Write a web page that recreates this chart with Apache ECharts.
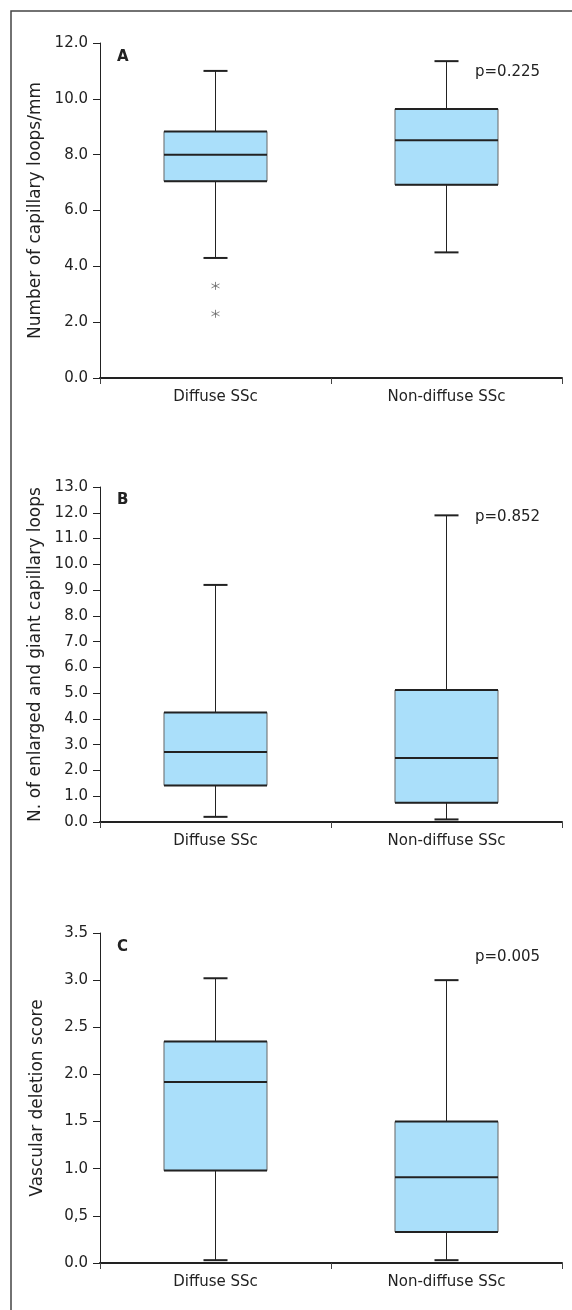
<!DOCTYPE html>
<html>
<head>
<meta charset="utf-8">
<script src="https://cdn.jsdelivr.net/npm/echarts@6/dist/echarts.min.js"></script>
<style>
  html, body { margin: 0; padding: 0; background: #fff; overflow: hidden; }
  #chart { width: 572px; height: 1310px; }
</style>
</head>
<body>
<div id="chart"></div>
<script>
// groups on the x axis
const categories = ['Diffuse SSc', 'Non-diffuse SSc']

// [min, q1, median, q3, max] per group
const loopsBox = [[4.3, 7.05, 8.0, 8.83, 11.0], [4.5, 6.92, 8.52, 9.64, 11.35]]
const loopsOutliers = [[0, 3.3], [0, 2.3]]
const enlargedBox = [[0.2, 1.42, 2.72, 4.25, 9.2], [0.1, 0.75, 2.48, 5.12, 11.9]]
const deletionBox = [[0.03, 0.98, 1.92, 2.35, 3.02], [0.03, 0.33, 0.91, 1.5, 3.0]]

// y axis labels as printed (panel C has a comma on 0,5)
const deletionTicks = ['0.0', '0,5', '1.0', '1.5', '2.0', '2.5', '3.0', '3.5']

const yNames = ['Number of capillary loops/mm', 'N. of enlarged and giant capillary loops', 'Vascular deletion score']
const panelLetters = ['A', 'B', 'C']
const pValues = ['p=0.225', 'p=0.852', 'p=0.005']

const FONT = '"DejaVu Sans", sans-serif'
const INK = '#222'

const grids = [
  { left: 100, top: 43, width: 462, height: 335 },
  { left: 100, top: 487, width: 462, height: 335 },
  { left: 100, top: 933, width: 462, height: 330 }
]
const yRanges = [[0, 12, 2], [0, 13, 1], [0, 3.5, 0.5]]

function boxItem(params, api) {
  const cat = api.value(0)
  const lo = api.coord([cat, api.value(1)])
  const q1 = api.coord([cat, api.value(2)])
  const med = api.coord([cat, api.value(3)])
  const q3 = api.coord([cat, api.value(4)])
  const hi = api.coord([cat, api.value(5)])
  const band = api.size([1, 0])[0]
  const bw = band * 0.446 / 2
  const cw = band * 0.104 / 2
  const cx = lo[0]
  const hline = (y, half, w) => ({
    type: 'line',
    shape: { x1: cx - half, y1: y, x2: cx + half, y2: y },
    style: { stroke: INK, lineWidth: w }
  })
  return {
    type: 'group',
    children: [
      { type: 'line', shape: { x1: cx, y1: q3[1], x2: cx, y2: hi[1] }, style: { stroke: INK, lineWidth: 1 } },
      { type: 'line', shape: { x1: cx, y1: q1[1], x2: cx, y2: lo[1] }, style: { stroke: INK, lineWidth: 1 } },
      {
        type: 'rect',
        shape: { x: cx - bw, y: q3[1], width: bw * 2, height: q1[1] - q3[1] },
        style: { fill: '#aadffa', stroke: '#666', lineWidth: 1 }
      },
      hline(q3[1], bw, 2),
      hline(q1[1], bw, 2),
      hline(med[1], bw, 2),
      hline(hi[1], cw, 2),
      hline(lo[1], cw, 2)
    ]
  }
}

const chart = echarts.init(document.getElementById('chart'), null, { renderer: 'canvas' })

const xAxis = grids.map((g, i) => ({
  type: 'category',
  gridIndex: i,
  data: categories,
  boundaryGap: true,
  axisLine: { lineStyle: { color: INK, width: 2 } },
  axisTick: { show: true, length: 6, lineStyle: { color: '#444', width: 1 } },
  axisLabel: { color: INK, fontSize: 15, fontFamily: FONT, margin: 12 },
  splitLine: { show: false }
}))

const yAxis = grids.map((g, i) => ({
  type: 'value',
  gridIndex: i,
  min: yRanges[i][0],
  max: yRanges[i][1],
  interval: yRanges[i][2],
  name: yNames[i],
  nameLocation: 'middle',
  nameGap: 54,
  nameTextStyle: { color: INK, fontSize: 17, fontFamily: FONT },
  axisLine: { show: true, lineStyle: { color: INK, width: 1 } },
  axisTick: { show: true, length: 7, lineStyle: { color: INK, width: 1 } },
  axisLabel: {
    color: INK, fontSize: 15, fontFamily: FONT, margin: 12,
    formatter: (v) => i === 2 ? deletionTicks[Math.round(v / 0.5)] : v.toFixed(1)
  },
  splitLine: { show: false }
}))

const boxSets = [loopsBox, enlargedBox, deletionBox]
const series = boxSets.map((set, i) => ({
  type: 'custom',
  xAxisIndex: i,
  yAxisIndex: i,
  renderItem: boxItem,
  encode: { x: 0, y: [1, 2, 3, 4, 5] },
  data: set.map((d, k) => [k].concat(d)),
  z: 3
}))

series.push({
  type: 'scatter',
  xAxisIndex: 0,
  yAxisIndex: 0,
  symbol: 'path://M5,0L5,10M0.7,2.5L9.3,7.5M0.7,7.5L9.3,2.5',
  symbolSize: 8,
  itemStyle: { color: 'none', borderColor: '#666', borderWidth: 1 },
  data: loopsOutliers,
  z: 4
})

const letterTops = [50, 493, 940]
const pCenters = [72, 517, 957]
const graphic = [
  {
    type: 'polyline',
    shape: { points: [[11, 1320], [11, 11], [572, 11]] },
    style: { stroke: '#444', lineWidth: 1.5, fill: 'none' }
  }
]
panelLetters.forEach((t, i) => {
  graphic.push({
    type: 'text', left: 117, top: letterTops[i],
    style: { text: t, font: 'bold 15px ' + FONT, fill: INK }
  })
  graphic.push({
    type: 'text', x: 475, y: pCenters[i],
    style: { text: pValues[i], font: '15px ' + FONT, fill: INK, verticalAlign: 'middle' }
  })
})

chart.setOption({
  animation: false,
  backgroundColor: '#fff',
  grid: grids,
  xAxis: xAxis,
  yAxis: yAxis,
  series: series,
  graphic: graphic
})
</script>
</body>
</html>
